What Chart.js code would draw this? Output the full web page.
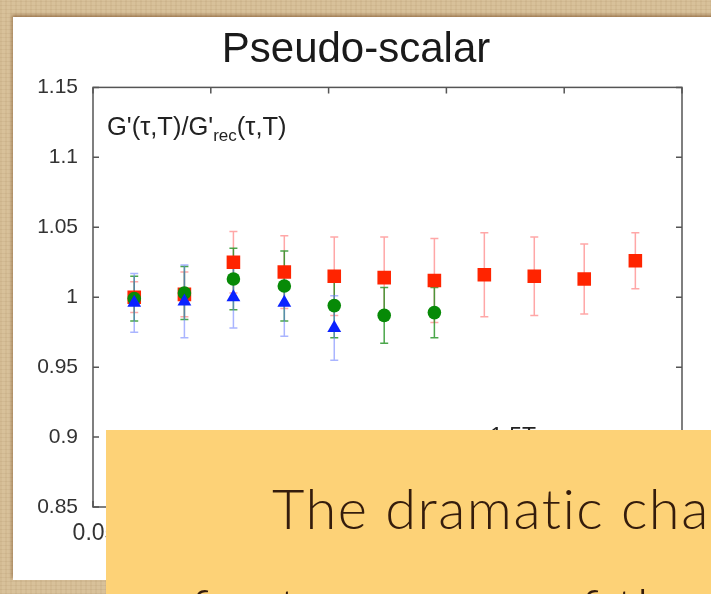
<!DOCTYPE html>
<html>
<head>
<meta charset="utf-8">
<title>Pseudo-scalar</title>
<script src="https://cdn.jsdelivr.net/npm/chart.js@4.4.0/dist/chart.umd.min.js"></script>
<style>
  html, body { margin: 0; padding: 0; }
  body {
    width: 711px; height: 594px; overflow: hidden; position: relative;
    background:
      repeating-linear-gradient(90deg, rgba(150,110,60,0.08) 0 2px, rgba(255,255,255,0) 2px 5px),
      repeating-linear-gradient(0deg, rgba(120,80,40,0.07) 0 1px, rgba(255,255,255,0) 1px 4px),
      #d8c19a;
  }
  #slide {
    position: absolute; left: 13px; top: 17px; width: 710px; height: 563px;
    background: #fff;
    box-shadow: -1px -2px 3px rgba(120, 75, 35, 0.6);
  }
  #chart { position: absolute; left: 0; top: 0; }
  #note {
    position: absolute; left: 106px; top: 430px; width: 605px; height: 164px;
    background: #fdd277; overflow: hidden;
  }
  .line {
    position: absolute; white-space: nowrap;
    font-family: Lato, "Open Sans", sans-serif; font-weight: 300;
    font-size: 56px; line-height: 56px; letter-spacing: 1.5px; color: #341c0c;
  }
</style>
</head>
<body>
<div id="slide"></div>
<canvas id="chart" width="711" height="594"></canvas>
<div id="note">
  <div class="line" style="left:166px; top:50px;">The dramatic change in the</div>
  <div class="line" style="left:84px; top:150px;">for two cases of the</div>
</div>
<script>
// tau*T positions shared by all three data sets
const tauT = [0.0675, 0.0888, 0.1096, 0.1312, 0.1524, 0.1736, 0.1949, 0.2161, 0.2373, 0.2585, 0.2802];

// G/G_rec ratios and their errors
const redVals   = [1.000, 1.002, 1.025, 1.018, 1.015, 1.014, 1.012, 1.016, 1.015, 1.013, 1.026];
const redErr    = [0.011, 0.016, 0.022, 0.026, 0.028, 0.029, 0.030, 0.030, 0.028, 0.025, 0.020];
const greenVals = [0.999, 1.003, 1.013, 1.008, 0.994, 0.987, 0.989];
const greenErr  = [0.016, 0.019, 0.022, 0.025, 0.023, 0.020, 0.018];
const blueVals  = [0.996, 0.997, 1.000, 0.996, 0.978];
const blueErr   = [0.021, 0.026, 0.022, 0.024, 0.023];

const yMin = 0.85, yMax = 1.15, yStep = 0.05;
const xMin = 0.05, xMax = 0.3, xStep = 0.05;
const keyLabel = '1.5T';
const plotLabel = ["G'(\u03c4,T)/G'", 'rec', '(\u03c4,T)'];

const FONT = '"Liberation Sans", Arial, sans-serif';

function points(vals) {
  return vals.map((v, i) => ({ x: tauT[i], y: v }));
}

function fmt(v) {
  return String(+Number(v).toFixed(2));
}

// vertical error bars with short caps, drawn under the markers
const errorBars = {
  id: 'errorBars',
  beforeDatasetsDraw(chart) {
    const ctx = chart.ctx;
    const yScale = chart.scales.y;
    // draw in reverse so the first data set's bars end up on top
    for (let i = chart.data.datasets.length - 1; i >= 0; i--) {
      const ds = chart.data.datasets[i];
      const meta = chart.getDatasetMeta(i);
      ctx.save();
      ctx.strokeStyle = ds.errorColor;
      ctx.lineWidth = 1.5;
      meta.data.forEach((pt, j) => {
        const v = ds.data[j].y;
        const e = ds.errors[j];
        const top = yScale.getPixelForValue(v + e);
        const bot = yScale.getPixelForValue(v - e);
        ctx.beginPath();
        ctx.moveTo(pt.x, top); ctx.lineTo(pt.x, bot);
        ctx.moveTo(pt.x - 4, top); ctx.lineTo(pt.x + 4, top);
        ctx.moveTo(pt.x - 4, bot); ctx.lineTo(pt.x + 4, bot);
        ctx.stroke();
      });
      ctx.restore();
    }
  }
};

// closed frame with inward ticks on all four sides, plus the plot labels
const frame = {
  id: 'frame',
  beforeDatasetsDraw(chart) {
    const { ctx, chartArea: a, scales: { x, y } } = chart;
    const tick = 6;
    ctx.save();
    ctx.strokeStyle = '#555';
    ctx.lineWidth = 1.5;
    ctx.strokeRect(a.left, a.top, a.right - a.left, a.bottom - a.top);
    ctx.beginPath();
    y.ticks.forEach(t => {
      const py = y.getPixelForValue(t.value);
      ctx.moveTo(a.left, py); ctx.lineTo(a.left + tick, py);
      ctx.moveTo(a.right, py); ctx.lineTo(a.right - tick, py);
    });
    x.ticks.forEach(t => {
      const px = x.getPixelForValue(t.value);
      ctx.moveTo(px, a.bottom); ctx.lineTo(px, a.bottom - tick);
      ctx.moveTo(px, a.top); ctx.lineTo(px, a.top + tick);
    });
    ctx.stroke();

    // ratio label in the upper left corner
    ctx.fillStyle = '#222';
    ctx.textBaseline = 'alphabetic';
    ctx.textAlign = 'left';
    let tx = a.left + 14;
    const ty = a.top + 48;
    ctx.font = '25.5px ' + FONT;
    ctx.fillText(plotLabel[0], tx, ty);
    tx += ctx.measureText(plotLabel[0]).width;
    ctx.font = '17px ' + FONT;
    ctx.fillText(plotLabel[1], tx, ty + 6);
    tx += ctx.measureText(plotLabel[1]).width;
    ctx.font = '25.5px ' + FONT;
    ctx.fillText(plotLabel[2], tx, ty);

    // key entry near the bottom of the plot
    ctx.font = '23px ' + FONT;
    ctx.fillText(keyLabel, a.left + 397, a.bottom - 63);
    ctx.restore();
  }
};

const ctx = document.getElementById('chart');

new Chart(ctx, {
  type: 'scatter',
  data: {
    datasets: [
      {
        label: 'blue',
        data: points(blueVals),
        errors: blueErr,
        errorColor: 'rgba(100, 120, 255, 0.55)',
        pointStyle: 'triangle',
        pointRadius: 8,
        backgroundColor: '#0a22ff',
        borderColor: '#0a22ff',
        borderWidth: 0,
        order: 0
      },
      {
        label: 'green',
        data: points(greenVals),
        errors: greenErr,
        errorColor: 'rgba(30, 145, 30, 0.8)',
        pointStyle: 'circle',
        pointRadius: 6.8,
        backgroundColor: '#078a07',
        borderColor: '#078a07',
        borderWidth: 0,
        order: 1
      },
      {
        label: 'red',
        data: points(redVals),
        errors: redErr,
        errorColor: 'rgba(255, 80, 80, 0.5)',
        pointStyle: 'rect',
        pointRadius: 9.6,
        backgroundColor: '#ff2400',
        borderColor: '#ff2400',
        borderWidth: 0,
        order: 2
      }
    ]
  },
  options: {
    responsive: false,
    animation: false,
    events: [],
    layout: {
      padding: { top: 25, left: 30, right: 29, bottom: 37 }
    },
    plugins: {
      legend: { display: false },
      tooltip: { enabled: false },
      title: {
        display: true,
        text: 'Pseudo-scalar',
        color: '#1a1a1a',
        font: { size: 42, family: FONT, weight: 'normal' },
        padding: { top: 0, bottom: 12 }
      }
    },
    scales: {
      x: {
        type: 'linear',
        min: xMin,
        max: xMax,
        afterFit: s => { s.height = 50; },
        grid: { display: false, drawTicks: false },
        border: { display: false },
        ticks: {
          stepSize: xStep,
          padding: 13,
          labelOffset: 2,
          color: '#333',
          font: { size: 23, family: FONT },
          callback: v => fmt(v)
        }
      },
      y: {
        min: yMin,
        max: yMax,
        afterFit: s => { s.width = 63; },
        grid: { display: false, drawTicks: false },
        border: { display: false },
        ticks: {
          stepSize: yStep,
          padding: 15,
          color: '#333',
          font: { size: 21, family: FONT },
          callback: v => fmt(v)
        }
      }
    }
  },
  plugins: [errorBars, frame]
});
</script>
</body>
</html>
